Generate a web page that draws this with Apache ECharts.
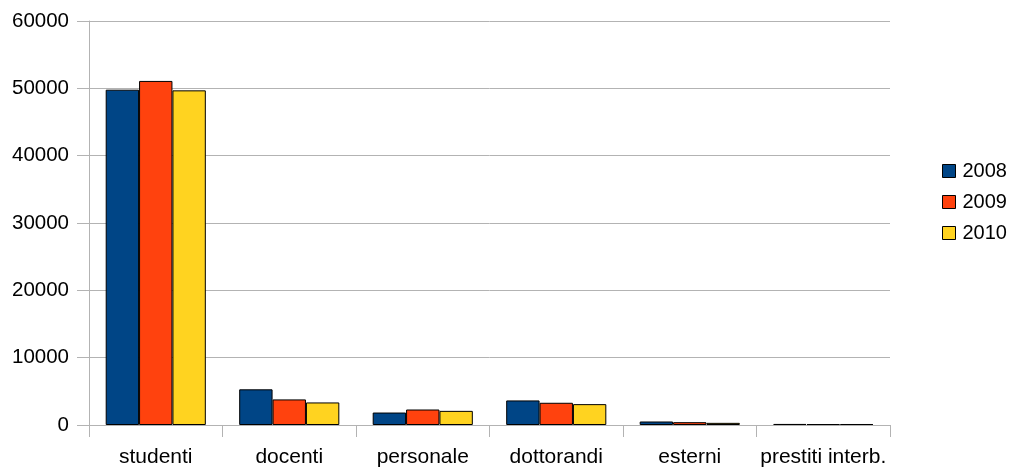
<!DOCTYPE html>
<html><head><meta charset="utf-8">
<script src="https://cdn.jsdelivr.net/npm/echarts@6/dist/echarts.min.js"></script>
<style>html,body{margin:0;padding:0;background:#fff}#c{width:1010px;height:468px}</style>
</head><body><div id="c"></div>
<script>
const categories = ['studenti','docenti','personale','dottorandi','esterni','prestiti interb.'];
const years = ['2008','2009','2010'];
const v2008 = [49800, 5300, 1850, 3650, 520, 160];
const v2009 = [51100, 3800, 2300, 3300, 420, 140];
const v2010 = [49700, 3350, 2100, 3100, 320, 150];
const yTicks = [0,10000,20000,30000,40000,50000,60000];
const colors = ['#004586','#ff420e','#ffd320'];
const font = 'Liberation Sans, Arial, sans-serif';
const chart = echarts.init(document.getElementById('c'), null, {renderer:'canvas'});
const seriesData = [v2008, v2009, v2010];
chart.setOption({
  animation:false,
  grid:{left:89, right:120, top:21, bottom:43, containLabel:false},
  legend:{
    orient:'vertical', left:942, top:161, padding:0, itemWidth:13, itemHeight:13, itemGap:11,
    icon:'rect', data:years,
    itemStyle:{borderColor:'#000', borderWidth:1},
    textStyle:{fontFamily:font, fontSize:20, color:'#000', padding:[0,0,0,2]}
  },
  xAxis:{
    type:'category', data:categories,
    axisLine:{show:true, lineStyle:{color:'#b3b3b3', width:1}},
    axisTick:{show:true, length:12, inside:false, lineStyle:{color:'#b3b3b3'}},
    axisLabel:{fontFamily:font, fontSize:21, color:'#000', margin:22, interval:0},
    splitLine:{show:false}
  },
  yAxis:{
    type:'value', min:yTicks[0], max:yTicks[yTicks.length-1], interval:10000,
    axisLine:{show:true, lineStyle:{color:'#b3b3b3'}},
    axisTick:{show:true, length:12, lineStyle:{color:'#b3b3b3'}},
    axisLabel:{fontFamily:font, fontSize:20.5, color:'#000', margin:20, formatter:v=>String(v)},
    splitLine:{show:true, lineStyle:{color:'#b3b3b3', width:1}}
  },
  series: years.map((y,i)=>({
    name:y, type:'bar', data:seriesData[i],
    barGap:'0%', barCategoryGap:'25%',
    itemStyle:{color:colors[i], borderColor:'#000', borderWidth:1}
  }))
});
</script></body></html>
